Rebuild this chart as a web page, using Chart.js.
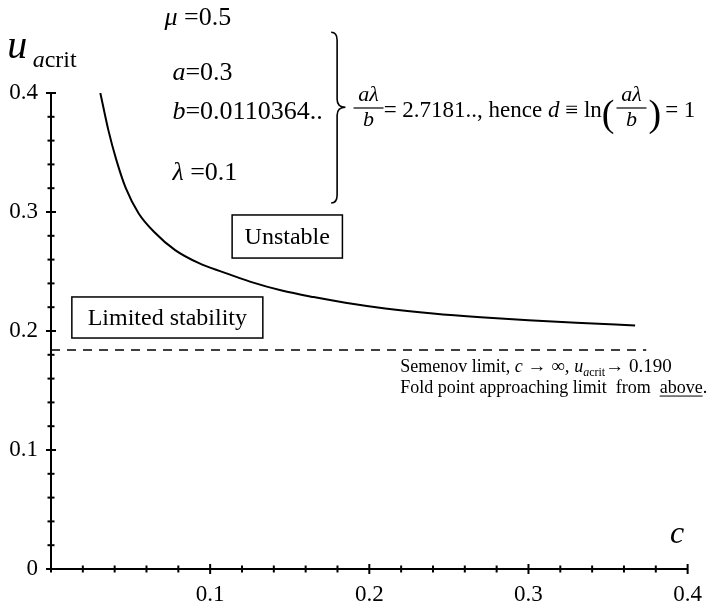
<!DOCTYPE html>
<html>
<head>
<meta charset="utf-8">
<script src="https://cdn.jsdelivr.net/npm/chart.js@4"></script>
<style>
  html, body { margin: 0; padding: 0; background: #fff; }
  #wrap { width: 714px; height: 606px; position: relative; }
</style>
</head>
<body>
<div id="wrap"><canvas id="foldChart"></canvas></div>
<script>
// --- data ---
const cVals = [0.031, 0.036, 0.041, 0.047, 0.055, 0.065, 0.078, 0.093, 0.108, 0.125,
               0.145, 0.165, 0.185, 0.210, 0.240, 0.270, 0.300, 0.330, 0.367];
const uVals = [0.400, 0.369, 0.344, 0.320, 0.299, 0.283, 0.268, 0.257, 0.2495, 0.2415,
               0.234, 0.2285, 0.2238, 0.219, 0.2147, 0.2115, 0.209, 0.2069, 0.2047];
const limitC = [0, 0.374];     // semenov dashed line, c range
const limitU = [0.184, 0.184];
const xTicks = [0.1, 0.2, 0.3, 0.4];
const yTicks = [0, 0.1, 0.2, 0.3, 0.4];

const SERIF = '"Liberation Serif", "DejaVu Serif", serif';
const font = (size, it) => (it ? 'italic ' : '') + size + 'px ' + SERIF;

function isMajor(v, list) {
  return list.some(t => Math.abs(t - v) < 1e-6);
}

// draw a run of text parts left to right
function drawRun(ctx, x, y, parts) {
  parts.forEach(p => {
    ctx.font = font(p.size, p.it);
    ctx.fillText(p.t, x, y + (p.dy || 0));
    const w = ctx.measureText(p.t).width;
    if (p.under) {
      ctx.beginPath();
      ctx.lineWidth = 1;
      ctx.moveTo(x, y + 3); ctx.lineTo(x + w, y + 3);
      ctx.stroke();
    }
    x += w + (p.gap || 0);
  });
  return x;
}

function drawFraction(ctx, cx, yNum, yBar, yDen, size) {
  ctx.font = font(size, true);
  ctx.textAlign = 'center';
  ctx.fillText('a\u03bb', cx, yNum);
  ctx.fillText('b', cx, yDen);
  ctx.textAlign = 'left';
  ctx.beginPath();
  ctx.lineWidth = 1.2;
  ctx.moveTo(cx - 15, yBar); ctx.lineTo(cx + 15, yBar);
  ctx.stroke();
}

// --- tick marks crossing the axes + annotations ---
const decor = {
  id: 'decor',
  afterDraw(chart) {
    const ctx = chart.ctx;
    const xs = chart.scales.x, ys = chart.scales.y;
    const X = v => xs.getPixelForValue(v);
    const Y = v => ys.getPixelForValue(v);
    const area = chart.chartArea;
    ctx.save();
    ctx.strokeStyle = '#000';
    ctx.fillStyle = '#000';
    ctx.lineWidth = 2;

    xs.ticks.forEach(t => {
      const px = X(t.value), len = isMajor(t.value, xTicks) ? 5 : 3.5;
      ctx.beginPath(); ctx.moveTo(px, area.bottom - len); ctx.lineTo(px, area.bottom + len); ctx.stroke();
    });
    ys.ticks.forEach(t => {
      const py = Y(t.value), len = isMajor(t.value, yTicks) ? 5 : 3.5;
      ctx.beginPath(); ctx.moveTo(area.left - len, py); ctx.lineTo(area.left + len, py); ctx.stroke();
    });

    ctx.textBaseline = 'alphabetic';
    ctx.textAlign = 'left';

    // axis titles
    drawRun(ctx, X(-0.0275), Y(0.4294), [{ t: 'u', size: 40, it: true }]);
    drawRun(ctx, X(-0.0115), Y(0.4294) + 9, [{ t: 'a', size: 24, it: true }, { t: 'crit', size: 24 }]);
    drawRun(ctx, X(0.389), Y(0.022), [{ t: 'c', size: 32, it: true }]);

    // parameter list
    drawRun(ctx, X(0.0713), Y(0.457), [{ t: '\u03bc', size: 26, it: true }, { t: ' =0.5', size: 26 }]);
    drawRun(ctx, X(0.0763), Y(0.411), [{ t: 'a', size: 26, it: true }, { t: '=0.3', size: 26 }]);
    drawRun(ctx, X(0.0763), Y(0.378), [{ t: 'b', size: 26, it: true }, { t: '=0.0110364..', size: 26 }]);
    drawRun(ctx, X(0.0763), Y(0.327), [{ t: '\u03bb', size: 26, it: true }, { t: ' =0.1', size: 26 }]);

    // right curly brace
    const bx = X(0.176), tx = X(0.185);
    const bt = Y(0.451), bb = Y(0.3076), bm = Y(0.388);
    ctx.lineWidth = 1.6;
    ctx.beginPath();
    ctx.moveTo(bx, bt);
    ctx.quadraticCurveTo(bx + 6, bt, bx + 6, bt + 8);
    ctx.lineTo(bx + 6, bm - 8);
    ctx.quadraticCurveTo(bx + 6, bm, tx, bm);
    ctx.quadraticCurveTo(bx + 6, bm, bx + 6, bm + 8);
    ctx.lineTo(bx + 6, bb - 8);
    ctx.quadraticCurveTo(bx + 6, bb, bx, bb);
    ctx.stroke();

    // a*lambda/b equation
    const eqBase = Y(0.3798);
    drawFraction(ctx, X(0.1995), Y(0.3933), Y(0.3874), Y(0.3723), 22);
    let ex = drawRun(ctx, X(0.209), eqBase, [
      { t: '= 2.7181.., hence ', size: 23 }, { t: 'd', size: 23, it: true }, { t: ' \u2261 ln', size: 23 }
    ]);
    ctx.font = '38px ' + SERIF;
    ctx.fillText('(', ex, eqBase + 9);
    ex += ctx.measureText('(').width;
    drawFraction(ctx, ex + 17, Y(0.3933), Y(0.3874), Y(0.3723), 22);
    ex += 34;
    ctx.font = '38px ' + SERIF;
    ctx.fillText(')', ex, eqBase + 9);
    ex += ctx.measureText(')').width;
    drawRun(ctx, ex + 4, eqBase, [{ t: '= 1', size: 23 }]);

    // region labels in boxes
    const boxes = [
      { t: 'Unstable', c0: 0.1138, c1: 0.1831, u0: 0.2975, u1: 0.2613 },
      { t: 'Limited stability', c0: 0.0131, c1: 0.1331, u0: 0.2286, u1: 0.1941 }
    ];
    boxes.forEach(b => {
      const x0 = X(b.c0), x1 = X(b.c1), y0 = Y(b.u0), y1 = Y(b.u1);
      ctx.lineWidth = 1.5;
      ctx.strokeRect(x0, y0, x1 - x0, y1 - y0);
      ctx.font = font(24, false);
      ctx.textAlign = 'center';
      ctx.textBaseline = 'middle';
      ctx.fillText(b.t, (x0 + x1) / 2, (y0 + y1) / 2 + 1);
      ctx.textAlign = 'left';
      ctx.textBaseline = 'alphabetic';
    });

    // semenov note
    const sx = X(0.2194);
    drawRun(ctx, sx, Y(0.1706) + 6, [
      { t: 'Semenov limit, ', size: 18 }, { t: 'c', size: 18, it: true },
      { t: ' \u2192 \u221e, ', size: 19 }, { t: 'u', size: 18, it: true },
      { t: 'a', size: 12, it: true, dy: 4 }, { t: 'crit', size: 12, dy: 4 },
      { t: '\u2192 0.190', size: 19 }
    ]);
    drawRun(ctx, sx, Y(0.1529) + 6, [
      { t: 'Fold point approaching limit  from  ', size: 18 },
      { t: 'above', size: 18, under: true }, { t: '.', size: 18 }
    ]);
    ctx.restore();
  }
};

const tickLabel = (v, skipZero) => {
  const r = Math.round(v * 100);
  if (r % 10 !== 0) return '';
  if (r === 0) return skipZero ? '' : '0';
  return (r / 100).toString();
};

new Chart(document.getElementById('foldChart'), {
  type: 'scatter',
  data: {
    datasets: [
      {
        data: cVals.map((c, i) => ({ x: c, y: uVals[i] })),
        showLine: true, borderColor: '#000', borderWidth: 2,
        pointRadius: 0, cubicInterpolationMode: 'monotone', fill: false
      },
      {
        data: limitC.map((c, i) => ({ x: c, y: limitU[i] })),
        showLine: true, borderColor: '#000', borderWidth: 1.5,
        borderDash: [9, 7], pointRadius: 0, fill: false
      }
    ]
  },
  options: {
    responsive: true,
    maintainAspectRatio: false,
    animation: false,
    layout: { padding: { top: 93, right: 23, left: 0, bottom: 0 } },
    plugins: { legend: { display: false }, tooltip: { enabled: false } },
    scales: {
      x: {
        type: 'linear', min: 0, max: 0.4,
        grid: { display: false, drawTicks: false },
        border: { display: true, color: '#000', width: 2 },
        ticks: {
          stepSize: 0.02, autoSkip: false, maxRotation: 0, padding: 12,
          color: '#000', font: { family: SERIF, size: 23 },
          callback: v => tickLabel(v, true)
        },
        afterFit: s => { s.height = 37; }
      },
      y: {
        type: 'linear', min: 0, max: 0.4,
        grid: { display: false, drawTicks: false },
        border: { display: true, color: '#000', width: 2 },
        ticks: {
          stepSize: 0.02, autoSkip: false, padding: 13,
          color: '#000', font: { family: SERIF, size: 23 },
          callback: v => tickLabel(v, false)
        },
        afterFit: s => { s.width = 51; }
      }
    }
  },
  plugins: [decor]
});
</script>
</body>
</html>
